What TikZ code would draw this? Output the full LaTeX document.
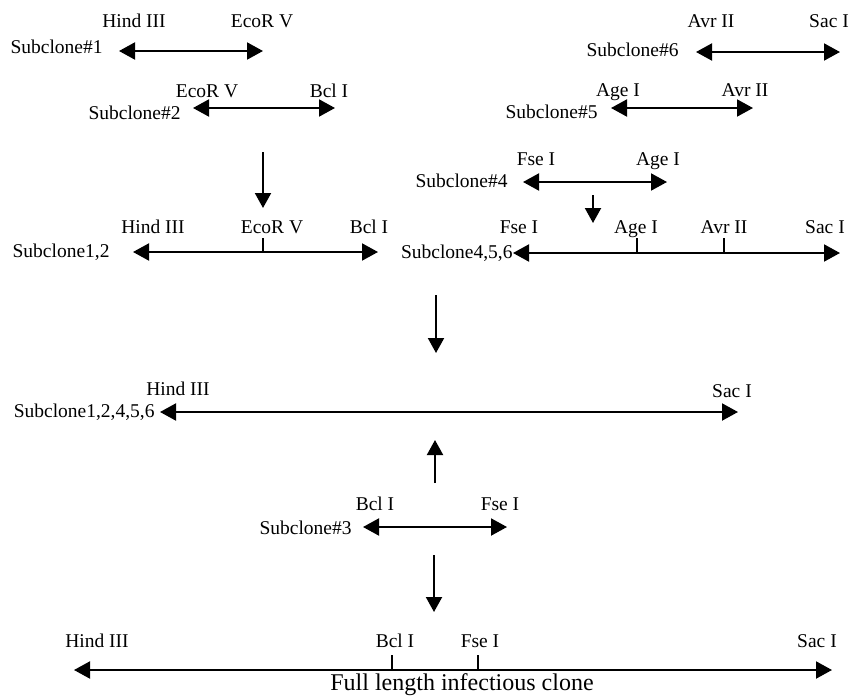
\documentclass[tikz,border=0pt]{standalone}
\usepackage{fontspec}
\setmainfont{Liberation Serif}
\usetikzlibrary{arrows.meta}

\begin{document}
\begin{tikzpicture}[
  x=0.5pt, y=-0.5pt,
  site/.style={font=\fontsize{9.75}{11}\selectfont, anchor=base, inner sep=0pt},
  clone/.style={font=\fontsize{9.75}{11}\selectfont, anchor=base east, inner sep=0pt},
  dbl/.style={{Triangle[length=8pt,width=8.5pt]}-{Triangle[length=8pt,width=8.5pt]}, line width=1pt},
  arr/.style={-{Triangle[length=7.5pt,width=8pt]}, line width=1pt},
  cut/.style={line width=0.8pt}
]
\useasboundingbox (0,0) rectangle (851,696);

% subclone 1 and 2
\coordinate (s1l) at (119,51);  \coordinate (s1r) at (263,51);
\node[clone] (s1) at (103,54) {Subclone\#1};
\node[site] (s1hind) at (134,27) {Hind III};
\node[site] (s1eco) at (262,27) {EcoR V};
\coordinate (s2l) at (193,108); \coordinate (s2r) at (335,108);
\node[clone] (s2) at (181,119) {Subclone\#2};
\node[site] (s2eco) at (207,97) {EcoR V};
\node[site] (s2bcl) at (329,97) {Bcl I};

% subclone 6, 5, 4
\coordinate (s6l) at (696,52);  \coordinate (s6r) at (840,52);
\node[clone] (s6) at (679,56) {Subclone\#6};
\node[site] (s6avr) at (711,27) {Avr II};
\node[site] (s6sac) at (829,27) {Sac I};
\coordinate (s5l) at (611,108); \coordinate (s5r) at (753,108);
\node[clone] (s5) at (598,118) {Subclone\#5};
\node[site] (s5age) at (618,96) {Age I};
\node[site] (s5avr) at (745,96) {Avr II};
\coordinate (s4l) at (523,182); \coordinate (s4r) at (667,182);
\node[clone] (s4) at (508,187) {Subclone\#4};
\node[site] (s4fse) at (536,165) {Fse I};
\node[site] (s4age) at (658,165) {Age I};

% combined 1,2
\coordinate (s12l) at (133,252); \coordinate (s12r) at (378,252);
\coordinate (s12eco) at (263,238);
\node[clone] (s12) at (110,257) {Subclone1,2};
\node[site] (s12hind) at (153,233) {Hind III};
\node[site] (s12ecot) at (272,233) {EcoR V};
\node[site] (s12bcl) at (369,233) {Bcl I};

% combined 4,5,6
\coordinate (s456l) at (513,253); \coordinate (s456r) at (840,253);
\coordinate (s456age) at (637,238); \coordinate (s456avr) at (724,238);
\node[clone] (s456) at (513,258) {Subclone4,5,6};
\node[site] (s456fse) at (519,233) {Fse I};
\node[site] (s456aget) at (636,233) {Age I};
\node[site] (s456avrt) at (724,233) {Avr II};
\node[site] (s456sac) at (825,233) {Sac I};

% combined 1,2,4,5,6
\coordinate (s5all) at (160,412); \coordinate (s5alr) at (738,412);
\node[clone] (s5al) at (155,417) {Subclone1,2,4,5,6};
\node[site] (s5alhind) at (178,395) {Hind III};
\node[site] (s5alsac) at (732,397) {Sac I};

% subclone 3
\coordinate (s3l) at (363,527); \coordinate (s3r) at (507,527);
\node[clone] (s3) at (352,534) {Subclone\#3};
\node[site] (s3bcl) at (375,510) {Bcl I};
\node[site] (s3fse) at (500,510) {Fse I};

% full length clone
\coordinate (fl) at (74,670); \coordinate (fr) at (832,670);
\coordinate (fbcl) at (392,655); \coordinate (ffse) at (478,655);
\node[site] (fhind) at (97,647) {Hind III};
\node[site] (fbclt) at (395,647) {Bcl I};
\node[site] (ffset) at (480,647) {Fse I};
\node[site] (fsac) at (817,647) {Sac I};
\node[site, font=\fontsize{12}{14}\selectfont] (full) at (462,690) {Full length infectious clone};

% step arrows
\coordinate (d1a) at (263,152); \coordinate (d1b) at (263,208);
\coordinate (d2a) at (593,195); \coordinate (d2b) at (593,223);
\coordinate (d3a) at (436,295); \coordinate (d3b) at (436,353);
\coordinate (u1a) at (435,483); \coordinate (u1b) at (435,440);
\coordinate (d4a) at (434,555); \coordinate (d4b) at (434,612);

\draw[dbl] (s1l) -- (s1r);
\draw[dbl] (s2l) -- (s2r);
\draw[dbl] (s6l) -- (s6r);
\draw[dbl] (s5l) -- (s5r);
\draw[dbl] (s4l) -- (s4r);
\draw[dbl] (s12l) -- (s12r);
\draw[dbl] (s456l) -- (s456r);
\draw[dbl] (s5all) -- (s5alr);
\draw[dbl] (s3l) -- (s3r);
\draw[dbl] (fl) -- (fr);
\draw[cut] (s12eco) -- (s12eco |- s12l);
\draw[cut] (s456age) -- (s456age |- s456l);
\draw[cut] (s456avr) -- (s456avr |- s456l);
\draw[cut] (fbcl) -- (fbcl |- fl);
\draw[cut] (ffse) -- (ffse |- fl);
\draw[arr] (d1a) -- (d1b);
\draw[arr] (d2a) -- (d2b);
\draw[arr] (d3a) -- (d3b);
\draw[arr] (u1a) -- (u1b);
\draw[arr] (d4a) -- (d4b);
\end{tikzpicture}
\end{document}
